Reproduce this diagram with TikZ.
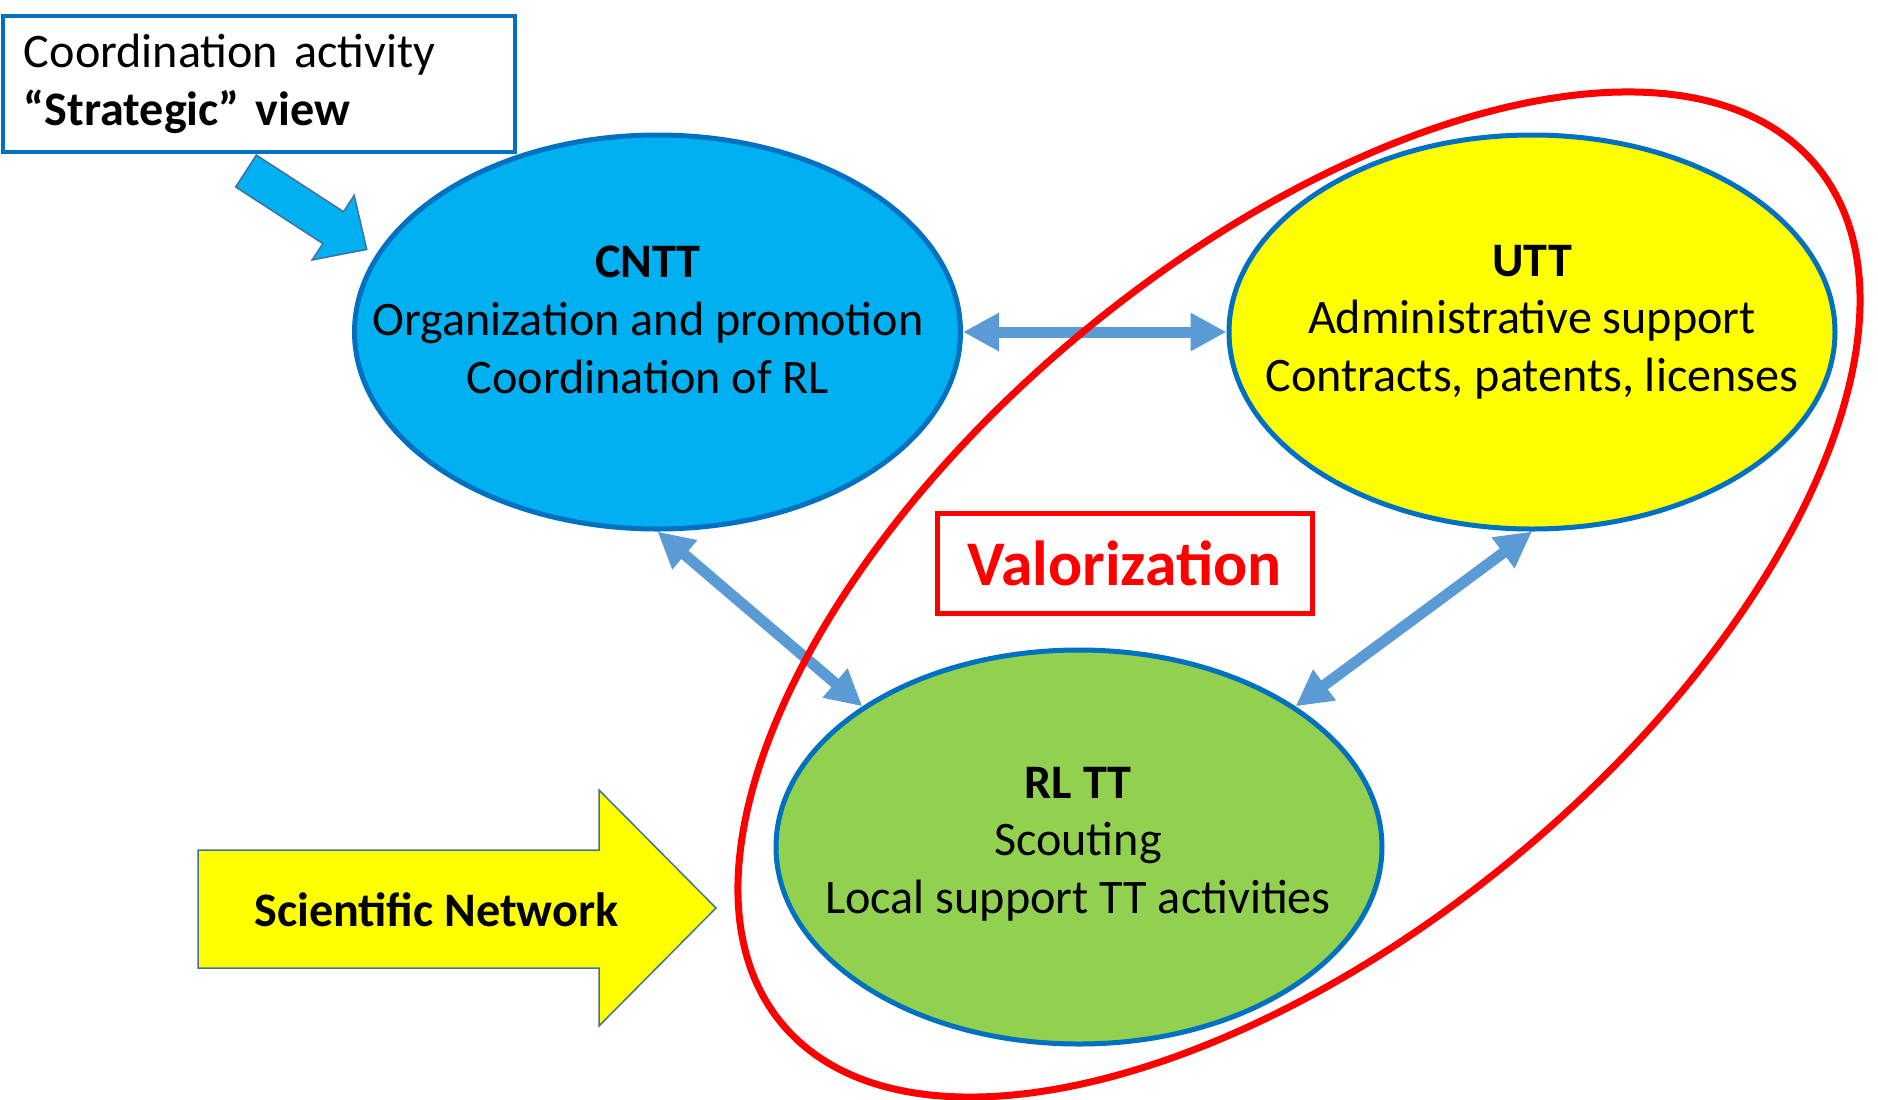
\documentclass[tikz,border=0pt]{standalone}
\usepackage{fontspec}
\setmainfont{Carlito}
\usepackage{tikz}
\usetikzlibrary{arrows.meta}
\usetikzlibrary{shapes.geometric,positioning}

\definecolor{cnttBlue}{HTML}{00B0F0}
\definecolor{rlGreen}{HTML}{92D050}
\definecolor{uttYellow}{HTML}{FFFF00}
\definecolor{rimBlue}{HTML}{0070C0}
\definecolor{linkBlue}{HTML}{5B9BD5}
\definecolor{edgeBlue}{HTML}{41719C}
\definecolor{valRed}{HTML}{FF0000}

\tikzset{
  bubble/.style={ellipse, draw=rimBlue, line width=0.05cm, inner sep=0pt,
    minimum width=6.06cm, minimum height=3.94cm},
  bubbletext/.style={align=center, font=\fontsize{13.7}{16.4}\selectfont},
  link/.style={linkBlue, line width=0.11cm,
    {Triangle[width=0.36cm,length=0.36cm]}-{Triangle[width=0.36cm,length=0.36cm]}},
  blockarrow/.style={draw=edgeBlue, line width=0.015cm, line join=miter},
}

\begin{document}
\begin{tikzpicture}
  \useasboundingbox (0,0) rectangle (18.78,-10.99);

  % header box
  \node[draw=rimBlue, line width=0.04cm, minimum width=5.12cm, minimum height=1.36cm,
        text width=4.70cm, align=left, inner sep=0pt,
        font=\fontsize{13.7}{16.6}\selectfont] (coord) at (2.59,-0.84)
        {Coordination activity\\\textbf{``Strategic'' view}};

  % small arrow down to CNTT
  \begin{scope}[shift={(2.46,-1.71)}, rotate=-33]
    \fill[cnttBlue, blockarrow] (0,0.19) -- (1.04,0.19) -- (1.04,0.385) -- (1.44,0)
      -- (1.04,-0.385) -- (1.04,-0.19) -- (0,-0.19) -- cycle;
  \end{scope}

  % the three units
  \node[bubble, fill=cnttBlue] (cntt) at (6.575,-3.32) {};
  \node[bubble, fill=uttYellow] (utt) at (15.32,-3.32) {};
  \node[bubble, fill=rlGreen] (rltt) at (10.79,-8.47) {};

  \node[bubbletext] (cntt-txt) at (6.48,-3.20)
    {\textbf{CNTT}\\Organization and promotion\\Coordination of RL};
  \node[bubbletext] (utt-txt) at (15.32,-3.22)
    {\textbf{UTT}\\Administrative support\\Contracts, patents, licenses};
  \node[bubbletext] (rltt-txt) at (10.78,-8.44)
    {\textbf{RL TT}\\Scouting\\Local support TT activities};

  % links
  \draw[link] (cntt.east) -- (utt.west);
  \draw[link] (cntt.south) -- (rltt.147);
  \draw[link] (utt.south) -- (rltt.33);

  % network arrow
  \fill[uttYellow, blockarrow] (1.98,-8.50) -- (5.99,-8.50) -- (5.99,-7.90) -- (7.16,-9.08)
    -- (5.99,-10.26) -- (5.99,-9.68) -- (1.98,-9.68) -- cycle;
  \node[font=\fontsize{13.7}{16.4}\selectfont\bfseries] (net) at (4.365,-9.10) {Scientific Network};

  % valorization
  \node[draw=valRed, line width=0.05cm, minimum width=3.75cm, minimum height=1.0cm,
        text=valRed, font=\fontsize{18.1}{21}\selectfont\bfseries] (valor) at (11.245,-5.63)
        {Valorization};
  \draw[valRed, line width=0.07cm, rotate around={39.67:(12.99,-5.945)}]
    (12.99,-5.945) ellipse [x radius=6.72, y radius=3.40];

\end{tikzpicture}
\end{document}
